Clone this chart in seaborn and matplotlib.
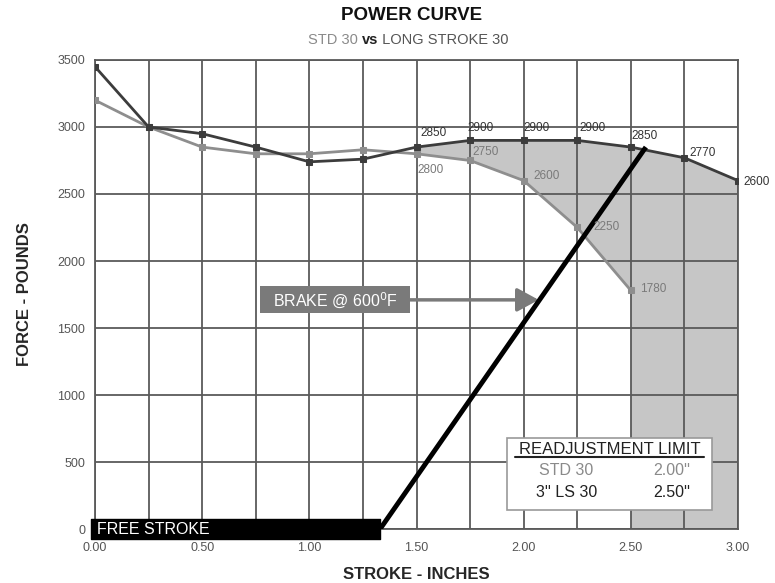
import numpy as np
import pandas as pd
import matplotlib
matplotlib.use("Agg")
import matplotlib.pyplot as plt
from matplotlib.patches import Rectangle
import seaborn as sns

# stroke positions (inches)
stroke_long = [0.00, 0.25, 0.50, 0.75, 1.00, 1.25, 1.50, 1.75, 2.00, 2.25, 2.50, 2.75, 3.00]
force_long = [3450, 3000, 2950, 2850, 2740, 2760, 2850, 2900, 2900, 2900, 2850, 2770, 2600]
stroke_std = [0.00, 0.25, 0.50, 0.75, 1.00, 1.25, 1.50, 1.75, 2.00, 2.25, 2.50]
force_std = [3200, 3000, 2850, 2800, 2800, 2830, 2800, 2750, 2600, 2250, 1780]

# labelled points
labels_long = [2850, 2900, 2900, 2900, 2850, 2770, 2600]
labels_std = [2800, 2750, 2600, 2250, 1780]

free_stroke_end = 1.33
brake_line_x = [1.33, 2.57]
brake_line_y = [0, 2850]

sns.set_theme(style="white")
plt.rcParams['font.family'] = ['Liberation Sans', 'DejaVu Sans']

dark = "#3c3c3c"
light = "#8e8e8e"
grid_c = "#5a5a5a"

df_long = pd.DataFrame({"stroke": stroke_long, "force": force_long})
df_std = pd.DataFrame({"stroke": stroke_std, "force": force_std})

fig = plt.figure(figsize=(7.75, 5.83), dpi=100)
ax = fig.add_axes([0.1226, 0.0926, 0.8297, 0.8045])

# grey area between the two curves past 1.5 in, and down to 0 past 2.5 in
sl = np.array(stroke_long)
fl = np.array(force_long)
ss = np.array(stroke_std)
fs = np.array(force_std)
m_long = sl >= 1.5
m_std = ss >= 1.5
poly_x = list(sl[m_long]) + [3.0, 2.5] + list(ss[m_std][::-1])
poly_y = list(fl[m_long]) + [0, 0] + list(fs[m_std][::-1])
ax.fill(poly_x, poly_y, color="#c6c6c6", zorder=0.5, lw=0)

sns.lineplot(data=df_std, x="stroke", y="force", ax=ax, color=light, lw=2,
             marker="s", markersize=5, markeredgecolor=light, zorder=3)
sns.lineplot(data=df_long, x="stroke", y="force", ax=ax, color=dark, lw=2,
             marker="s", markersize=5, markeredgecolor=dark, zorder=4)

ax.set_xlim(0, 3.0)
ax.set_ylim(0, 3500)
xt = np.arange(0, 3.01, 0.25)
ax.set_xticks(xt)
ax.set_xticklabels([f"{v:.2f}" if i % 2 == 0 else "" for i, v in enumerate(xt)])
ax.set_yticks(np.arange(0, 3501, 500))
ax.grid(True, color=grid_c, lw=1.3, zorder=1)
ax.set_axisbelow(False)
for s in ax.spines.values():
    s.set_color(grid_c)
    s.set_linewidth(1.3)
    s.set_zorder(1)
ax.tick_params(axis="both", labelsize=9, labelcolor="#555555", length=0, pad=7)
ax.tick_params(axis="x", length=4, color=grid_c, width=1.3, pad=5)
ax.set_xlabel("STROKE - INCHES", fontsize=12, fontweight="bold", labelpad=10)
ax.set_ylabel("FORCE - POUNDS", fontsize=12, fontweight="bold", labelpad=18)

# point labels (pixel offsets from the marker)
offs_long = [(4, 14), (-3, 12), (0, 12), (2, 12), (1, 11), (5, 5), (5, -1)]
for x, y, lab, (dx, dy) in zip(sl[m_long], fl[m_long], labels_long, offs_long):
    ax.annotate(str(lab), (x, y), xytext=(dx, dy), textcoords="offset pixels",
                ha="left", va="center", fontsize=8.5, color="#333333", zorder=6)
offs_std = [(1, -16), (2, 8), (10, 5), (16, 0), (9, 1)]
for x, y, lab, (dx, dy) in zip(ss[m_std], fs[m_std], labels_std, offs_std):
    ax.annotate(str(lab), (x, y), xytext=(dx, dy), textcoords="offset pixels",
                ha="left", va="center", fontsize=8.5, color="#7a7a7a", zorder=6)

# brake line and free stroke bar
ax.plot(brake_line_x, brake_line_y, color="black", lw=3.5, zorder=5, solid_capstyle="butt")
ax.fill_between([-0.02, free_stroke_end], [-75, -75], [75, 75], color="black",
                zorder=5, clip_on=False)
ax.text(0.01, -5, "FREE STROKE", color="white", fontsize=11.5, va="center", ha="left", zorder=6)

# brake arrow
ax.annotate("", xy=(2.07, 1710), xytext=(1.46, 1710),
            arrowprops=dict(arrowstyle="-|>,head_length=1.1,head_width=0.6", color="#7a7a7a",
                            lw=2.5, shrinkA=0, shrinkB=0), zorder=4)
ax.add_patch(Rectangle((0.77, 1612), 0.70, 201, fc="#7a7a7a", ec="none", zorder=5))
ax.text(1.12, 1712, r"BRAKE @ 600$^{0}$F", color="white", fontsize=11.5, ha="center",
        va="center", zorder=6)

# readjustment box
ax.add_patch(Rectangle((1.92, 142), 0.96, 537, fc="white", ec="#999999", lw=1.2, zorder=6))
ax.text(2.40, 597, "READJUSTMENT LIMIT", fontsize=12, ha="center", va="center",
        color="#222222", zorder=7)
ax.plot([1.96, 2.84], [537, 537], color="#222222", lw=1.5, zorder=7)
ax.text(2.20, 440, "STD 30", fontsize=11.5, ha="center", va="center", color="#8a8a8a", zorder=7)
ax.text(2.69, 440, "2.00''", fontsize=11.5, ha="center", va="center", color="#8a8a8a", zorder=7)
ax.text(2.20, 276, "3'' LS 30", fontsize=11.5, ha="center", va="center", color="#222222", zorder=7)
ax.text(2.69, 276, "2.50''", fontsize=11.5, ha="center", va="center", color="#222222", zorder=7)

# titles
fig.text(412 / 775, 1 - 16 / 583, "POWER CURVE", fontsize=13.5, fontweight="bold",
         ha="center", va="center", color="#111111")
sub_y = 1 - 40 / 583
fig.text(362 / 775, sub_y, "STD 30 ", fontsize=10.5, ha="right", va="center", color="#8a8a8a")
fig.text(370 / 775, sub_y, "vs", fontsize=10.5, ha="center", va="center", color="#222222",
         fontweight="bold")
fig.text(378 / 775, sub_y, " LONG STROKE 30", fontsize=10.5, ha="left", va="center", color="#555555")

fig.savefig("out.png", dpi=100)
